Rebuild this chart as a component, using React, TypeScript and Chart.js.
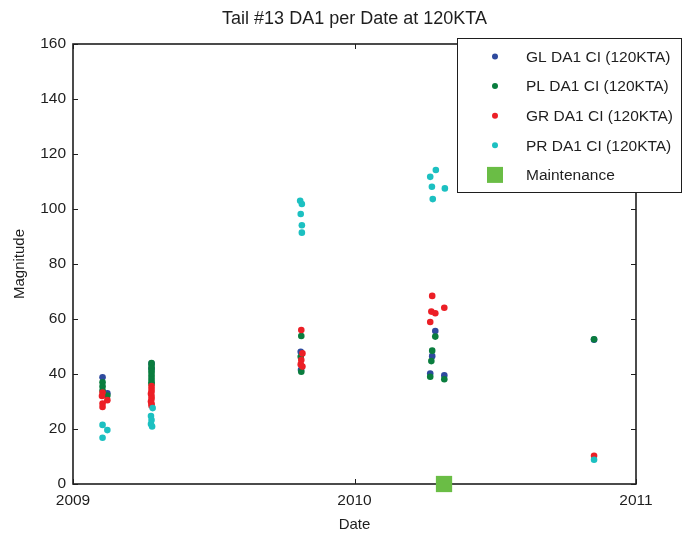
import React, { useEffect, useRef } from "react";
import { Chart, registerables } from "chart.js";

Chart.register(...registerables);

const TITLE = "Tail #13 DA1 per Date at 120KTA";
const X_LABEL = "Date";
const Y_LABEL = "Magnitude";
const X_TICKS = [2009, 2010, 2011];
const Y_TICKS = [0, 20, 40, 60, 80, 100, 120, 140, 160];

const LABELS = [
  "GL DA1 CI (120KTA)",
  "PL DA1 CI (120KTA)",
  "GR DA1 CI (120KTA)",
  "PR DA1 CI (120KTA)",
  "Maintenance",
];
const COLORS = ["#2e4a9e", "#0a7d3e", "#ec1f26", "#1cc0c1", "#6abd45"];

const GL_X = [2009.105, 2009.122, 2009.279, 2009.279, 2009.809, 2009.810, 2010.276, 2010.287, 2010.269, 2010.319, 2010.851];
const GL_Y = [38.8, 33, 43.8, 42, 48.1, 41.5, 46.5, 55.6, 40.2, 39.5, 52.5];

const PL_X = [2009.105, 2009.105, 2009.105, 2009.122, 2009.279, 2009.279, 2009.279, 2009.279, 2009.279, 2009.279, 2009.279, 2009.279, 2009.279, 2009.809, 2009.811, 2009.811, 2010.287, 2010.276, 2010.273, 2010.269, 2010.319, 2010.851];
const PL_Y = [37, 35.5, 34, 32.2, 44, 43, 42, 41, 40, 39, 38, 37, 36.4, 46.3, 53.8, 40.8, 53.6, 48.5, 44.7, 39, 38.1, 52.6];

const GR_X = [2009.105, 2009.103, 2009.105, 2009.105, 2009.122, 2009.279, 2009.279, 2009.279, 2009.277, 2009.279, 2009.279, 2009.277, 2009.279, 2009.279, 2009.811, 2009.815, 2009.811, 2009.809, 2009.815, 2010.276, 2010.273, 2010.287, 2010.319, 2010.269, 2010.851];
const GR_Y = [33.3, 32, 29.3, 28, 30.5, 35.6, 34.6, 33.6, 32.8, 32, 31, 30, 29.2, 28.5, 56, 47.5, 45.1, 43.5, 42.7, 68.4, 62.7, 62.1, 64.1, 58.9, 10.3];

const PR_X = [2009.105, 2009.122, 2009.105, 2009.283, 2009.277, 2009.279, 2009.277, 2009.281, 2009.807, 2009.813, 2009.809, 2009.813, 2009.813, 2010.289, 2010.269, 2010.275, 2010.321, 2010.278, 2010.851];
const PR_Y = [21.5, 19.6, 16.8, 27.6, 24.7, 23.3, 21.8, 20.9, 103, 101.8, 98.2, 94.1, 91.4, 114.2, 111.7, 108.1, 107.5, 103.6, 8.8];

const MAINT_X = [2010.318];
const MAINT_Y = [0];

const FONT = "'Liberation Sans', Arial, Helvetica, sans-serif";
const INK = "#1e1e1e";

const zip = (xs: number[], ys: number[]) => xs.map((x, i) => ({ x, y: ys[i] }));

const decorPlugin = {
  id: "decor",
  beforeDatasetsDraw(chart: any) {
    const { ctx, chartArea: a, scales } = chart;
    ctx.save();
    ctx.strokeStyle = INK;
    ctx.lineWidth = 1.6;
    ctx.strokeRect(a.left, a.top, a.right - a.left, a.bottom - a.top);
    ctx.lineWidth = 1;
    const tl = 5;
    ctx.beginPath();
    for (const v of Y_TICKS) {
      const y = Math.round(scales.y.getPixelForValue(v)) + 0.5;
      ctx.moveTo(a.left, y);
      ctx.lineTo(a.left + tl, y);
      ctx.moveTo(a.right, y);
      ctx.lineTo(a.right - tl, y);
    }
    for (const v of X_TICKS) {
      const x = Math.round(scales.x.getPixelForValue(v)) + 0.5;
      ctx.moveTo(x, a.bottom);
      ctx.lineTo(x, a.bottom - tl);
      ctx.moveTo(x, a.top);
      ctx.lineTo(x, a.top + tl);
    }
    ctx.stroke();
    ctx.restore();
  },
  afterDraw(chart: any) {
    const { ctx, chartArea: a } = chart;
    ctx.save();
    ctx.fillStyle = INK;
    ctx.textAlign = "center";
    ctx.textBaseline = "middle";
    ctx.font = `18px ${FONT}`;
    ctx.fillText(TITLE, (a.left + a.right) / 2, 19);
    ctx.font = `15px ${FONT}`;
    ctx.fillText(X_LABEL, (a.left + a.right) / 2, 525);
    ctx.save();
    ctx.translate(20, (a.top + a.bottom) / 2);
    ctx.rotate(-Math.PI / 2);
    ctx.fillText(Y_LABEL, 0, 0);
    ctx.restore();

    // legend
    const bx = 457.5, by = 38.5, bw = 224, bh = 154;
    ctx.fillStyle = "#ffffff";
    ctx.fillRect(bx, by, bw, bh);
    ctx.strokeStyle = INK;
    ctx.lineWidth = 1;
    ctx.strokeRect(bx, by, bw, bh);
    ctx.font = `15.5px ${FONT}`;
    ctx.textAlign = "left";
    ctx.textBaseline = "middle";
    chart.data.datasets.forEach((ds: any, i: number) => {
      const cy = 56.5 + i * 29.6;
      ctx.fillStyle = ds.backgroundColor;
      if (ds.pointStyle === "rect") {
        ctx.fillRect(487, cy - 8, 16, 16);
      } else {
        ctx.beginPath();
        ctx.arc(495, cy, 3, 0, Math.PI * 2);
        ctx.fill();
      }
      ctx.fillStyle = INK;
      ctx.fillText(ds.label, 526, cy + 1);
    });
    ctx.restore();
  },
};

export default function App() {
  const ref = useRef<HTMLCanvasElement | null>(null);

  useEffect(() => {
    if (!ref.current) return;
    const mk = (i: number, xs: number[], ys: number[], order: number) => ({
      label: LABELS[i],
      data: zip(xs, ys),
      backgroundColor: COLORS[i],
      borderColor: COLORS[i],
      borderWidth: 0,
      pointRadius: 3.3,
      pointHoverRadius: 3.3,
      pointStyle: "circle",
      order,
    });
    const chart = new Chart(ref.current, {
      type: "scatter",
      data: {
        datasets: [
          mk(0, GL_X, GL_Y, 4),
          mk(1, PL_X, PL_Y, 3),
          mk(2, GR_X, GR_Y, 2),
          mk(3, PR_X, PR_Y, 1),
          {
            label: LABELS[4],
            data: zip(MAINT_X, MAINT_Y),
            backgroundColor: COLORS[4],
            borderColor: COLORS[4],
            borderWidth: 0,
            pointRadius: 11.5,
            pointHoverRadius: 11.5,
            pointStyle: "rect",
            order: 0,
            clip: false,
          } as any,
        ],
      },
      options: {
        responsive: false,
        animation: false,
        events: [],
        layout: { padding: { top: 44, right: 47, left: 0, bottom: 0 } },
        plugins: {
          legend: { display: false },
          title: { display: false },
          tooltip: { enabled: false },
        },
        scales: {
          x: {
            type: "linear",
            min: 2009,
            max: 2011,
            afterBuildTicks: (s: any) => {
              s.ticks = X_TICKS.map((v) => ({ value: v }));
            },
            afterFit: (s: any) => {
              s.height = 52;
            },
            grid: { display: false, drawTicks: false, tickLength: 0 },
            border: { display: false },
            ticks: {
              color: INK,
              padding: 7,
              maxRotation: 0,
              font: { family: FONT, size: 15.5 },
              callback: (v: any) => String(v),
            },
          },
          y: {
            type: "linear",
            min: 0,
            max: 160,
            afterBuildTicks: (s: any) => {
              s.ticks = Y_TICKS.map((v) => ({ value: v }));
            },
            afterFit: (s: any) => {
              s.width = 73;
            },
            grid: { display: false, drawTicks: false, tickLength: 0 },
            border: { display: false },
            ticks: {
              color: INK,
              padding: 7,
              font: { family: FONT, size: 15.5 },
              callback: (v: any) => String(v),
            },
          },
        },
      } as any,
      plugins: [decorPlugin],
    });
    return () => chart.destroy();
  }, []);

  return (
    <div style={{ position: "absolute", left: 0, top: 0, width: 683, height: 536, background: "#fff" }}>
      <canvas ref={ref} width={683} height={536} style={{ display: "block" }} />
    </div>
  );
}
